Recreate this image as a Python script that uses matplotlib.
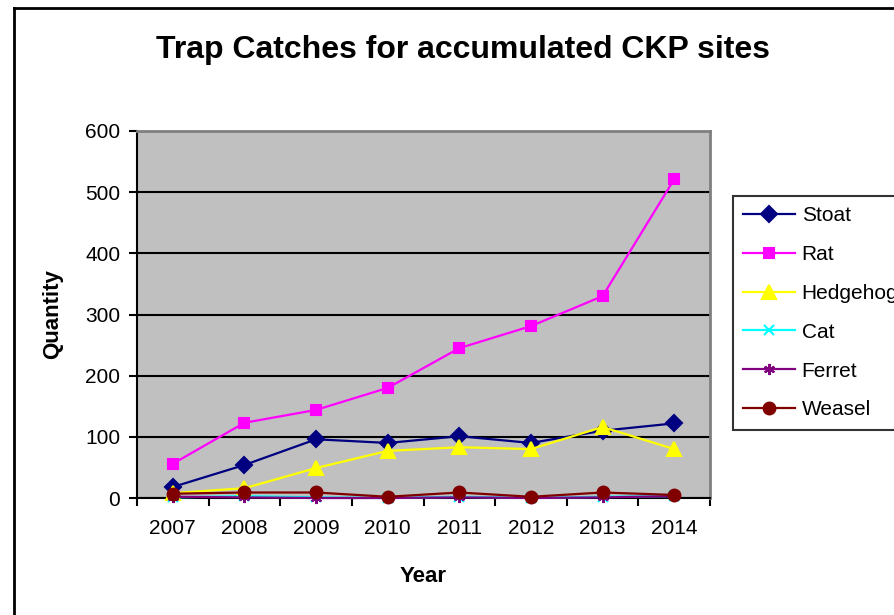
import matplotlib
matplotlib.use("Agg")
import matplotlib.pyplot as plt
from matplotlib.lines import Line2D

years = ["2007", "2008", "2009", "2010", "2011", "2012", "2013", "2014"]
stoat = [18, 54, 96, 90, 101, 90, 110, 122]
rat = [56, 123, 144, 180, 245, 281, 330, 521]
hedgehog = [8, 16, 49, 77, 83, 80, 116, 80]
cat = [1, 3, 1, 0, 2, 0, 2, 3]
ferret = [2, 1, 0, 0, 1, 0, 1, 3]
weasel = [7, 9, 9, 2, 9, 2, 9, 5]
yticks = [0, 100, 200, 300, 400, 500, 600]

plt.rcParams['font.family'] = ['Liberation Sans', 'DejaVu Sans']

W, H = 895, 615
fig = plt.figure(figsize=(W / 100, H / 100), dpi=100)
L, R, T, B = 137, 710, 131, 498
ax = fig.add_axes([L / W, 1 - B / H, (R - L) / W, (B - T) / H])
ax.set_facecolor('#C0C0C0')

x = list(range(len(years)))
series = [
    ("Stoat", stoat, '#000080', 'D', 8, '#000080'),
    ("Rat", rat, '#FF00FF', 's', 7.5, '#FF00FF'),
    ("Hedgehog", hedgehog, '#FFFF00', '^', 10, '#FFFF00'),
    ("Cat", cat, '#00FFFF', 'x', 7, '#00FFFF'),
    ("Ferret", ferret, '#800080', (6, 2, 0), 8, '#800080'),
    ("Weasel", weasel, '#800000', 'o', 8.5, '#800000'),
]
for name, vals, col, mk, ms, mc in series:
    ax.plot(x, vals, color=col, lw=1.6, marker=mk, ms=ms,
            markerfacecolor=mc, markeredgecolor=mc, mew=1.5, label=name,
            clip_on=False, zorder=3)

ax.set_xlim(-0.5, len(years) - 0.5)
ax.set_ylim(0, 600)
ax.set_yticks(yticks)
ax.set_yticklabels([str(v) for v in yticks], fontsize=15)
ax.set_xticks(x)
ax.set_xticklabels(years, fontsize=15)
ax.tick_params(axis='x', length=0, pad=15)
ax.set_xticks([i - 0.5 for i in range(len(years) + 1)], minor=True)
ax.tick_params(axis='x', which='minor', length=6, width=1.5, direction='out')
ax.tick_params(axis='y', length=6, width=1.5, direction='out', pad=6)
ax.yaxis.grid(True, color='black', lw=1.5)
ax.set_axisbelow(True)
for s in ['top', 'right']:
    ax.spines[s].set_color('#808080')
    ax.spines[s].set_linewidth(2)
for s in ['left', 'bottom']:
    ax.spines[s].set_color('black')
    ax.spines[s].set_linewidth(1.5)

ax.set_xlabel("Year", fontsize=16, fontweight='bold', labelpad=20)
ax.set_ylabel("Quantity", fontsize=16, fontweight='bold', labelpad=16)

fig.text(463 / W, 1 - 50 / H, "Trap Catches for accumulated CKP sites",
         ha='center', va='center', fontsize=23, fontweight='bold')

leg = fig.legend(loc='upper left', bbox_to_anchor=(733 / W, 1 - 196 / H),
                 bbox_transform=fig.transFigure, fontsize=15, frameon=True,
                 fancybox=False, edgecolor='black', borderaxespad=0,
                 handlelength=2.5, labelspacing=0.95, handletextpad=0.3,
                 borderpad=0.5)
leg.get_frame().set_linewidth(1.5)

fig.add_artist(Line2D([14 / W, 14 / W], [0, 1 - 8 / H], color='black', lw=2,
                      transform=fig.transFigure))
fig.add_artist(Line2D([14 / W, 1], [1 - 8 / H, 1 - 8 / H], color='black', lw=2,
                      transform=fig.transFigure))

fig.savefig("out.png", dpi=100)
